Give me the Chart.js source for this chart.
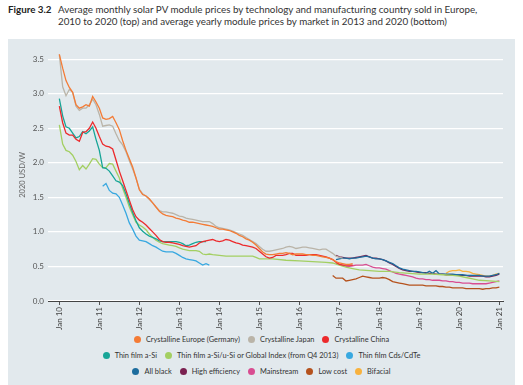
<!DOCTYPE html>
<html>
<head>
<meta charset="utf-8">
<script src="https://cdn.jsdelivr.net/npm/chart.js@4.4.1/dist/chart.umd.min.js"></script>
<style>
  body { margin: 0; width: 523px; height: 385px; background: #fff; overflow: hidden; font-family: Lato, "Open Sans", sans-serif; position: relative; }
  #title { position: absolute; left: 8px; top: 3px; font-size: 9.8px; line-height: 12px; color: #333; }
  #title b { position: absolute; left: 0; top: 0; color: #222; white-space: nowrap; }
  #title div { position: absolute; left: 50px; top: 0; white-space: nowrap; }
  #panel { position: absolute; left: 8px; top: 39px; width: 507px; height: 346px; background: #e2e9ed; }
  #chart { position: absolute; left: 8px; top: 40px; }
  .row { position: absolute; left: 8px; width: 507px; display: flex; justify-content: center; font-size: 7.4px; color: #333; }
  .item { display: flex; align-items: center; margin: 0 4px; white-space: nowrap; }
  .dot { width: 7px; height: 7px; border-radius: 50%; margin-right: 5px; }
</style>
</head>
<body>
<div id="title"><b>Figure 3.2</b><div>Average monthly solar PV module prices by technology and manufacturing country sold in Europe,<br>2010 to 2020 (top) and average yearly module prices by market in 2013 and 2020 (bottom)</div></div>
<div id="panel"></div>
<canvas id="chart" width="507" height="295"></canvas>
<div id="legend"></div>
<script>
// x = months since Jan 2010, y = 2020 USD/W
var monthTicks = [0, 12, 24, 36, 48, 60, 72, 84, 96, 108, 120, 132];
var tickLabels = ['Jan 10', 'Jan 11', 'Jan 12', 'Jan 13', 'Jan 14', 'Jan 15', 'Jan 16', 'Jan 17', 'Jan 18', 'Jan 19', 'Jan 20', 'Jan 21'];
var yTicks = [0, 0.5, 1, 1.5, 2, 2.5, 3, 3.5];

var europe = [[0,3.57],[1,3.37],[2,3.19],[3,3.09],[4,3.02],[5,2.84],[6,2.79],[7,2.81],[8,2.84],[9,2.82],[10,2.96],[11,2.88],[12,2.79],[13,2.65],[14,2.63],[15,2.64],[16,2.67],[17,2.58],[18,2.48],[19,2.32],[20,2.18],[21,2.06],[22,1.94],[23,1.78],[24,1.61],[25,1.54],[26,1.52],[27,1.48],[28,1.42],[29,1.36],[30,1.30],[31,1.26],[32,1.24],[33,1.23],[34,1.22],[35,1.20],[36,1.19],[37,1.17],[38,1.16],[39,1.14],[40,1.14],[41,1.13],[42,1.12],[43,1.11],[44,1.10],[45,1.09],[46,1.08],[47,1.06],[48,1.04],[49,1.04],[50,1.03],[51,1.02],[52,1.00],[53,0.98],[54,0.95],[55,0.93],[56,0.90],[57,0.88],[58,0.85],[59,0.81],[60,0.76],[61,0.71],[62,0.68],[63,0.67],[64,0.67],[65,0.68],[66,0.69],[67,0.69],[68,0.70],[69,0.69],[70,0.67],[71,0.68],[72,0.68],[73,0.68],[74,0.67],[75,0.67],[76,0.66],[77,0.66],[78,0.65],[79,0.64],[80,0.63],[81,0.62],[82,0.60],[83,0.57],[84,0.55],[85,0.54],[86,0.53],[87,0.53],[88,0.54]];
var japan = [[0,3.57],[1,3.10],[2,2.97],[3,3.06],[4,3.02],[5,2.82],[6,2.76],[7,2.79],[8,2.79],[9,2.84],[10,2.92],[11,2.84],[12,2.70],[13,2.53],[14,2.54],[15,2.55],[16,2.53],[17,2.42],[18,2.32],[19,2.26],[20,2.16],[21,2.03],[22,1.91],[23,1.78],[24,1.62],[25,1.55],[26,1.52],[27,1.47],[28,1.42],[29,1.36],[30,1.31],[31,1.29],[32,1.29],[33,1.28],[34,1.27],[35,1.25],[36,1.23],[37,1.22],[38,1.20],[39,1.19],[40,1.18],[41,1.17],[42,1.16],[43,1.15],[44,1.15],[45,1.15],[46,1.12],[47,1.08],[48,1.06],[49,1.05],[50,1.04],[51,1.03],[52,1.01],[53,0.99],[54,0.97],[55,0.95],[56,0.92],[57,0.89],[58,0.86],[59,0.83],[60,0.79],[61,0.75],[62,0.72],[63,0.72],[64,0.73],[65,0.74],[66,0.75],[67,0.76],[68,0.78],[69,0.79],[70,0.78],[71,0.76],[72,0.77],[73,0.78],[74,0.78],[75,0.77],[76,0.76],[77,0.75],[78,0.74],[79,0.75],[80,0.75],[81,0.72],[82,0.69],[83,0.65],[84,0.63],[85,0.62]];
var china = [[0,2.82],[1,2.58],[2,2.43],[3,2.40],[4,2.40],[5,2.34],[6,2.31],[7,2.44],[8,2.45],[9,2.50],[10,2.59],[11,2.50],[12,2.38],[13,2.27],[14,2.24],[15,2.23],[16,2.20],[17,2.04],[18,1.88],[19,1.74],[20,1.60],[21,1.46],[22,1.32],[23,1.22],[24,1.17],[25,1.14],[26,1.10],[27,1.05],[28,1.00],[29,0.95],[30,0.89],[31,0.86],[32,0.85],[33,0.85],[34,0.84],[35,0.83],[36,0.82],[37,0.80],[38,0.79],[39,0.78],[40,0.79],[41,0.80],[42,0.84],[43,0.86],[44,0.87],[45,0.88],[46,0.89],[47,0.87],[48,0.86],[49,0.87],[50,0.89],[51,0.88],[52,0.86],[53,0.84],[54,0.83],[55,0.81],[56,0.80],[57,0.79],[58,0.78],[59,0.76],[60,0.72],[61,0.68],[62,0.64],[63,0.62],[64,0.63],[65,0.66],[66,0.66],[67,0.66],[68,0.67],[69,0.69],[70,0.69],[71,0.66],[72,0.66],[73,0.66],[74,0.66],[75,0.67],[76,0.67],[77,0.67],[78,0.66],[79,0.65],[80,0.64],[81,0.62],[82,0.60],[83,0.56],[84,0.53],[85,0.52],[86,0.52],[87,0.52],[88,0.52]];
var aSi = [[0,2.93],[1,2.68],[2,2.52],[3,2.50],[4,2.43],[5,2.36],[6,2.38],[7,2.45],[8,2.42],[9,2.46],[10,2.52],[11,2.34],[12,2.18],[13,1.93],[14,1.92],[15,1.88],[16,1.81],[17,1.74],[18,1.72],[19,1.67],[20,1.55],[21,1.41],[22,1.28],[23,1.16],[24,1.06],[25,1.01],[26,0.97],[27,0.94],[28,0.92],[29,0.90],[30,0.87],[31,0.86],[32,0.86],[33,0.86],[34,0.86],[35,0.86],[36,0.85],[37,0.83],[38,0.80],[39,0.81],[40,0.83],[41,0.85],[42,0.86],[43,0.86],[44,0.86]];
var aSiuSi = [[0,2.55],[1,2.27],[2,2.18],[3,2.16],[4,2.11],[5,2.02],[6,1.90],[7,1.96],[8,1.91],[9,1.98],[10,2.06],[11,2.05],[12,1.98],[13,1.93],[14,1.93],[15,1.99],[16,1.98],[17,1.88],[18,1.78],[19,1.63],[20,1.50],[21,1.36],[22,1.25],[23,1.14],[24,1.10],[25,1.07],[26,1.03],[27,0.97],[28,0.92],[29,0.88],[30,0.85],[31,0.83],[32,0.82],[33,0.81],[34,0.80],[35,0.79],[36,0.77],[37,0.75],[38,0.74],[39,0.73],[40,0.73],[41,0.73],[42,0.72],[43,0.68],[44,0.67],[45,0.68],[46,0.67],[48,0.66],[50,0.65],[54,0.65],[58,0.65],[59,0.63],[60,0.61],[64,0.61],[68,0.59],[72,0.58],[76,0.57],[80,0.56],[82,0.55],[84,0.52],[86,0.49],[88,0.47],[90,0.45],[93,0.44],[96,0.43],[99,0.43],[102,0.41],[105,0.40],[108,0.39],[112,0.39],[115,0.38],[118,0.37],[120,0.36],[122,0.34],[124,0.32],[126,0.30],[129,0.29],[132,0.28]];
var cdte = [[13,1.66],[14,1.70],[15,1.60],[16,1.56],[17,1.55],[18,1.50],[19,1.39],[20,1.27],[21,1.13],[22,1.04],[23,0.94],[24,0.88],[25,0.87],[26,0.86],[27,0.83],[28,0.80],[29,0.78],[30,0.75],[31,0.72],[32,0.71],[33,0.71],[34,0.71],[35,0.69],[36,0.66],[37,0.63],[38,0.61],[39,0.60],[40,0.59],[41,0.58],[42,0.55],[43,0.52],[44,0.54],[45,0.52]];
var allBlack = [[83,0.60],[84,0.61],[85,0.62],[86,0.62],[87,0.61],[88,0.62],[89,0.62],[90,0.63],[91,0.64],[92,0.65],[93,0.64],[94,0.62],[95,0.61],[96,0.61],[97,0.60],[98,0.58],[99,0.56],[100,0.54],[101,0.51],[102,0.48],[103,0.46],[104,0.45],[105,0.44],[106,0.43],[107,0.43],[108,0.42],[109,0.41],[110,0.40],[111,0.43],[112,0.40],[113,0.44],[114,0.39],[115,0.39],[116,0.39],[117,0.39],[118,0.39],[119,0.38],[120,0.38],[121,0.38],[122,0.37],[123,0.37],[124,0.37],[125,0.37],[126,0.37],[127,0.36],[128,0.36],[129,0.36],[130,0.37],[131,0.38],[132,0.40]];
var highEff = [[83,0.66],[84,0.64],[85,0.63],[86,0.62],[87,0.62],[88,0.62],[89,0.63],[90,0.64],[91,0.65],[92,0.66],[93,0.64],[94,0.62],[95,0.62],[96,0.61],[97,0.60],[98,0.58],[99,0.55],[100,0.53],[101,0.50],[102,0.47],[103,0.45],[104,0.44],[105,0.43],[106,0.43],[107,0.42],[108,0.41],[109,0.41],[110,0.41],[111,0.40],[112,0.40],[113,0.39],[114,0.39],[115,0.39],[116,0.38],[117,0.38],[118,0.38],[119,0.38],[120,0.37],[121,0.37],[122,0.37],[123,0.36],[124,0.36],[125,0.36],[126,0.36],[127,0.36],[128,0.35],[129,0.35],[130,0.36],[131,0.37],[132,0.39]];
var mainstream = [[83,0.54],[84,0.53],[85,0.52],[86,0.50],[87,0.50],[88,0.51],[89,0.52],[90,0.52],[91,0.52],[92,0.53],[93,0.51],[94,0.49],[95,0.48],[96,0.48],[97,0.47],[98,0.46],[99,0.44],[100,0.42],[101,0.40],[102,0.39],[103,0.38],[104,0.37],[105,0.36],[106,0.35],[107,0.33],[108,0.32],[109,0.32],[110,0.31],[111,0.31],[112,0.30],[113,0.30],[114,0.30],[115,0.29],[116,0.29],[117,0.28],[118,0.28],[119,0.27],[120,0.27],[121,0.26],[122,0.26],[123,0.26],[124,0.25],[125,0.25],[126,0.25],[127,0.25],[128,0.25],[129,0.26],[130,0.27],[131,0.28],[132,0.29]];
var lowCost = [[82,0.37],[83,0.33],[84,0.33],[85,0.33],[86,0.29],[87,0.30],[88,0.31],[89,0.32],[90,0.34],[91,0.36],[92,0.35],[93,0.34],[94,0.33],[95,0.33],[96,0.33],[97,0.34],[98,0.33],[99,0.31],[100,0.28],[101,0.27],[102,0.26],[103,0.25],[104,0.24],[105,0.23],[106,0.23],[107,0.23],[108,0.23],[109,0.23],[110,0.22],[111,0.22],[112,0.22],[113,0.22],[114,0.21],[115,0.21],[116,0.20],[117,0.20],[118,0.19],[119,0.19],[120,0.19],[121,0.19],[122,0.18],[123,0.18],[124,0.18],[125,0.18],[126,0.18],[127,0.17],[128,0.18],[129,0.18],[130,0.19],[131,0.19],[132,0.20]];
var bifacial = [[116,0.40],[117,0.43],[118,0.44],[119,0.44],[120,0.45],[121,0.43],[122,0.43],[123,0.42],[124,0.40],[125,0.39],[126,0.38],[127,0.37],[128,0.36],[129,0.36],[130,0.37],[131,0.39],[132,0.40]];

var series = [
    { label: 'Crystalline Europe (Germany)', data: europe, color: '#f47b35' },
    { label: 'Crystalline Japan', data: japan, color: '#bab4a8' },
    { label: 'Crystalline China', data: china, color: '#ec2a2c' },
    { label: 'Thin film a-Si', data: aSi, color: '#17a597' },
    { label: 'Thin film a-Si/u-Si or Global Index (from Q4 2013)', data: aSiuSi, color: '#a3cf62' },
    { label: 'Thin film Cds/CdTe', data: cdte, color: '#38a8e0' },
    { label: 'All black', data: allBlack, color: '#1d6d9e' },
    { label: 'High efficiency', data: highEff, color: '#7a2150' },
    { label: 'Mainstream', data: mainstream, color: '#d84d91' },
    { label: 'Low cost', data: lowCost, color: '#b5521d' },
    { label: 'Bifacial', data: bifacial, color: '#f8b23e' }
];
var legendRows = [[0, 1, 2], [3, 4, 5], [6, 7, 8, 9, 10]];
var legendTops = [335, 351, 367];

function toPoints(pairs) {
    var out = [];
    for (var i = 0; i < pairs.length; i++) {
        out.push({ x: pairs[i][0], y: pairs[i][1] });
    }
    return out;
}

var datasets = series.map(function(s) {
    return {
        label: s.label,
        data: toPoints(s.data),
        borderColor: s.color,
        backgroundColor: s.color,
        borderWidth: 1.3,
        pointRadius: 0,
        tension: 0,
        fill: false
    };
});

// legend as html, three centred rows
var legend = document.getElementById('legend');
legendRows.forEach(function(row, r) {
    var div = document.createElement('div');
    div.className = 'row';
    div.style.top = legendTops[r] + 'px';
    row.forEach(function(idx) {
        var item = document.createElement('span');
        item.className = 'item';
        item.innerHTML = '<span class="dot" style="background:' + series[idx].color + '"></span>' + series[idx].label;
        div.appendChild(item);
    });
    legend.appendChild(div);
});

var ctx = document.getElementById('chart').getContext('2d');

var chart = new Chart(ctx, {
    type: 'line',
    data: { datasets: datasets },
    options: {
        responsive: false,
        animation: false,
        layout: { padding: { left: 0, right: 12, top: 0, bottom: 0 } },
        plugins: { legend: { display: false }, tooltip: { enabled: false } },
        scales: {
            x: {
                type: 'linear',
                min: -3.4,
                max: 133.1,
                afterBuildTicks: function(scale) {
                    scale.ticks = monthTicks.map(function(v) { return { value: v }; });
                },
                afterFit: function(scale) { scale.height = 34; },
                ticks: {
                    autoSkip: false,
                    minRotation: 90,
                    maxRotation: 90,
                    padding: 2,
                    color: '#444',
                    font: { family: 'Lato', size: 8 },
                    callback: function(value) { return tickLabels[monthTicks.indexOf(value)]; }
                },
                grid: { drawOnChartArea: false, drawTicks: true, tickLength: 4, color: '#555' },
                border: { display: true, color: '#444', width: 1 }
            },
            y: {
                min: 0,
                max: 3.65,
                afterBuildTicks: function(scale) {
                    scale.ticks = yTicks.map(function(v) { return { value: v }; });
                },
                afterFit: function(scale) { scale.width = 40; },
                ticks: {
                    padding: 4,
                    color: '#555',
                    font: { family: 'Lato', size: 8 },
                    callback: function(value) { return value.toFixed(1); }
                },
                grid: { color: '#ffffff', lineWidth: 1.2, drawTicks: false },
                border: { display: false },
                title: {
                    display: true,
                    text: '2020 USD/W',
                    color: '#666',
                    padding: { top: 10, bottom: 0 },
                    font: { family: 'Lato', size: 7.5 }
                }
            }
        }
    }
});
</script>
</body>
</html>
